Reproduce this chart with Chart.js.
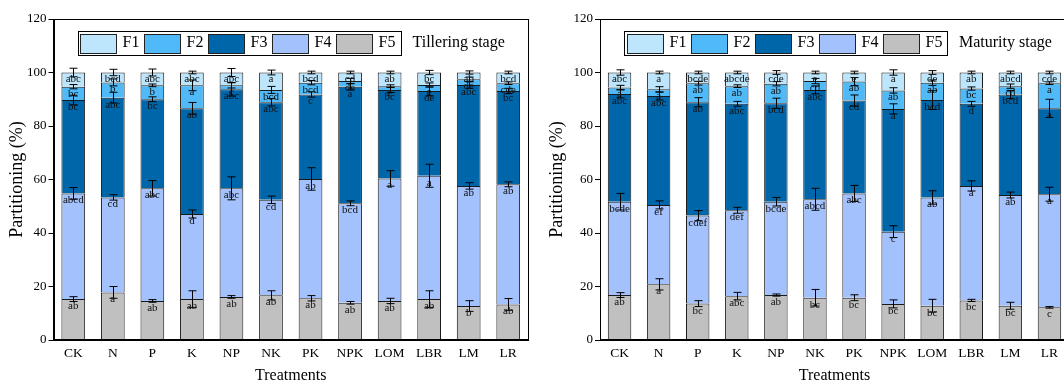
<!DOCTYPE html>
<html>
<head>
<meta charset="utf-8">
<script src="https://cdn.jsdelivr.net/npm/chart.js@4.4.0/dist/chart.umd.min.js"></script>
<style>
  html, body { margin: 0; padding: 0; background: #fff; overflow: hidden; width: 1064px; height: 384px; }
  .panel { position: absolute; top: 0; width: 540px; height: 384px; }
  #p1 { left: 0; }
  #p2 { left: 540px; }
</style>
</head>
<body>
<div class="panel" id="p1"><canvas id="c1" width="540" height="384"></canvas></div>
<div class="panel" id="p2"><canvas id="c2" width="540" height="384"></canvas></div>
<script>
// Categories and tick labels
const treatments = ['CK', 'N', 'P', 'K', 'NP', 'NK', 'PK', 'NPK', 'LOM', 'LBR', 'LM', 'LR'];
const fractionNames = ['F1', 'F2', 'F3', 'F4', 'F5'];
const yTickValues = [0, 20, 40, 60, 80, 100, 120];

// Tillering stage: partitioning (%) of each fraction
const tillF1 = [5.3, 3.7, 4.8, 4.8, 4.8, 6.5, 3.8, 3.2, 5.1, 4.7, 2.5, 4.0];
const tillF2 = [5.0, 5.7, 5.2, 8.6, 1.5, 4.6, 4.4, 2.1, 1.4, 2.2, 2.2, 2.9];
const tillF3 = [34.9, 37.3, 33.3, 39.5, 37.0, 36.5, 31.6, 43.6, 33.1, 31.7, 37.7, 34.9];
const tillF4 = [39.5, 35.5, 42.1, 31.8, 40.6, 35.7, 44.6, 37.2, 45.8, 46.1, 44.9, 44.9];
const tillF5 = [15.3, 17.8, 14.6, 15.3, 16.1, 16.7, 15.6, 13.9, 14.6, 15.3, 12.7, 13.3];
// Tillering stage: standard errors
const tillErrF1 = [1.6, 1.2, 1.3, 0.5, 1.5, 0.9, 0.5, 0.5, 0.5, 0.8, 0.6, 0.5];
const tillErrF2 = [0.8, 1.3, 0.5, 2.0, 1.0, 1.3, 0.8, 1.0, 0.5, 0.8, 0.8, 0.5];
const tillErrF3 = [1.8, 2.0, 0.9, 2.2, 2.5, 1.4, 1.0, 1.2, 1.0, 1.8, 1.2, 1.0];
const tillErrF4 = [2.2, 1.0, 2.9, 1.5, 4.3, 1.4, 4.2, 0.9, 2.9, 4.3, 1.2, 0.9];
const tillErrF5 = [0.9, 2.2, 0.5, 3.1, 0.5, 1.7, 1.0, 0.5, 1.0, 3.1, 2.0, 2.2];
// Tillering stage: significance letters
const tillLetF1 = ['abc', 'bcd', 'abc', 'abc', 'abc', 'a', 'bcd', 'cd', 'ab', 'bc', 'ab', 'bcd'];
const tillLetF2 = ['bc', 'b', 'b', 'a', 'c', 'bcd', 'bcd', 'de', 'e', 'e', 'de', 'cde'];
const tillLetF3 = ['bc', 'abc', 'bc', 'ab', 'abc', 'abc', 'c', 'a', 'bc', 'de', 'abc', 'bc'];
const tillLetF4 = ['abcd', 'cd', 'abc', 'd', 'abc', 'cd', 'ab', 'bcd', 'a', 'a', 'ab', 'ab'];
const tillLetF5 = ['ab', 'a', 'ab', 'ab', 'ab', 'ab', 'ab', 'ab', 'ab', 'ab', 'b', 'ab'];

// Maturity stage: partitioning (%) of each fraction
const matF1 = [5.6, 6.3, 4.0, 5.1, 4.2, 3.2, 3.4, 6.7, 3.8, 6.0, 5.1, 4.0];
const matF2 = [2.4, 2.5, 7.1, 6.6, 7.3, 3.3, 7.1, 6.9, 6.5, 5.7, 3.1, 9.4];
const matF3 = [40.3, 40.7, 42.4, 39.8, 36.8, 40.9, 34.7, 45.9, 36.4, 30.7, 37.6, 32.1];
const matF4 = [34.9, 29.7, 32.9, 32.1, 34.9, 36.8, 39.0, 27.0, 40.5, 42.8, 41.4, 42.3];
const matF5 = [16.8, 20.8, 13.6, 16.4, 16.8, 15.8, 15.8, 13.5, 12.8, 14.8, 12.8, 12.2];
// Maturity stage: standard errors
const matErrF1 = [1.0, 0.5, 0.5, 0.5, 0.7, 0.5, 0.5, 1.0, 0.7, 0.5, 0.5, 0.5];
const matErrF2 = [0.8, 1.0, 0.7, 0.5, 0.8, 1.0, 1.5, 1.0, 1.0, 0.6, 0.8, 0.5];
const matErrF3 = [1.5, 1.5, 1.7, 0.9, 1.9, 1.5, 2.1, 1.9, 3.5, 0.9, 1.5, 3.4];
const matErrF4 = [3.1, 1.5, 1.9, 1.1, 1.6, 4.1, 3.0, 2.2, 2.5, 1.9, 1.1, 2.6];
const matErrF5 = [0.9, 2.1, 1.1, 1.4, 0.4, 3.1, 1.1, 1.5, 2.4, 0.4, 1.3, 0.3];
// Maturity stage: significance letters
const matLetF1 = ['abc', 'a', 'bcde', 'abcde', 'cde', 'e', 'e', 'a', 'de', 'ab', 'abcd', 'cde'];
const matLetF2 = ['a', 'a', 'ab', 'ab', 'ab', 'cd', 'ab', 'ab', 'ab', 'bc', 'cd', 'a'];
const matLetF3 = ['abc', 'abc', 'ab', 'abc', 'bcd', 'abc', 'cd', 'a', 'bcd', 'd', 'bcd', 'a'];
const matLetF4 = ['bcde', 'ef', 'cdef', 'def', 'bcde', 'abcd', 'abc', 'c', 'ab', 'a', 'ab', 'a'];
const matLetF5 = ['ab', 'a', 'bc', 'abc', 'ab', 'bc', 'bc', 'bc', 'bc', 'bc', 'bc', 'c'];

// Fill colours F1..F5
const fractionColors = ['#bde5fc', '#50baf8', '#0066aa', '#a3c1fc', '#c0c0c0'];

const SERIF = '"Liberation Serif", "Times New Roman", serif';
const INK = '#000';

// Draws the plot frame, error bars, letters and the boxed legend with the stage name
const stageDecor = {
  id: 'stageDecor',
  afterDatasetsDraw(chart, args, opts) {
    const ctx = chart.ctx;
    const area = chart.chartArea;
    const yScale = chart.scales.y;
    const sets = chart.data.datasets;
    ctx.save();

    // error bars at the top of each stacked segment
    ctx.strokeStyle = INK;
    ctx.lineWidth = 1;
    const cum = new Array(chart.data.labels.length).fill(0);
    sets.forEach((ds, d) => {
      const meta = chart.getDatasetMeta(d);
      meta.data.forEach((el, i) => {
        cum[i] += ds.data[i];
        const err = ds.errors[i];
        const x = Math.round(el.x) + 0.5;
        const yHi = yScale.getPixelForValue(cum[i] + err);
        const yLo = yScale.getPixelForValue(cum[i] - err);
        ctx.beginPath();
        ctx.moveTo(x, yHi); ctx.lineTo(x, yLo);
        ctx.moveTo(x - 4, yHi); ctx.lineTo(x + 4, yHi);
        ctx.moveTo(x - 4, yLo); ctx.lineTo(x + 4, yLo);
        ctx.stroke();
      });
    });

    // significance letters just below each segment top
    ctx.fillStyle = '#111';
    ctx.font = '11px ' + SERIF;
    ctx.textAlign = 'center';
    ctx.textBaseline = 'middle';
    sets.forEach((ds, d) => {
      const meta = chart.getDatasetMeta(d);
      meta.data.forEach((el, i) => {
        ctx.fillText(ds.letters[i], el.x, el.y + 7);
      });
    });

    // frame around the plot area
    ctx.strokeStyle = INK;
    ctx.lineWidth = 1;
    ctx.strokeRect(Math.round(area.left) + 0.5, Math.round(area.top) + 0.5,
                   Math.round(area.right - area.left) - 1, Math.round(area.bottom - area.top) - 1);

    // boxed legend, F1 first
    const bx = area.left + 24, by = area.top + 11.5, bw = 323, bh = 24;
    ctx.fillStyle = '#fff';
    ctx.fillRect(bx, by, bw, bh);
    ctx.strokeRect(Math.round(bx) + 0.5, Math.round(by) + 0.5, bw, bh);
    ctx.font = '16px ' + SERIF;
    ctx.textAlign = 'left';
    ctx.textBaseline = 'middle';
    const ordered = sets.slice().reverse();
    ordered.forEach((ds, k) => {
      const sx = Math.round(bx + 2.5 + k * 64) + 0.5;
      const sy = Math.round(by + 3) + 0.5;
      ctx.fillStyle = ds.backgroundColor;
      ctx.fillRect(sx, sy, 36, 19);
      ctx.strokeStyle = '#222';
      ctx.strokeRect(sx, sy, 36, 19);
      ctx.fillStyle = INK;
      ctx.fillText(ds.label, sx + 42, by + bh / 2 + 0.5);
    });
    ctx.fillText(opts.stage, bx + bw + 12, by + bh / 2 + 0.5);
    ctx.restore();
  }
};

function buildSets(values, errors, letters) {
  // stacked bottom-up: F5, F4, F3, F2, F1
  const order = [4, 3, 2, 1, 0];
  return order.map(k => ({
    label: fractionNames[k],
    data: values[k],
    errors: errors[k],
    letters: letters[k],
    backgroundColor: fractionColors[k],
    borderColor: '#1a1a1a',
    borderWidth: 1,
    categoryPercentage: 1.0,
    barPercentage: 0.6
  }));
}

function makeChart(canvasId, stage, sets, yAxisWidth, padRight) {
  return new Chart(document.getElementById(canvasId), {
    type: 'bar',
    data: { labels: treatments, datasets: sets },
    plugins: [stageDecor],
    options: {
      responsive: false,
      devicePixelRatio: 1,
      animation: false,
      layout: { padding: { top: 19, right: padRight, bottom: 0, left: 0 } },
      plugins: {
        legend: { display: false },
        tooltip: { enabled: false },
        stageDecor: { stage: stage }
      },
      scales: {
        x: {
          stacked: true,
          grid: { display: false, drawTicks: false },
          border: { display: true, color: INK, width: 1 },
          ticks: { color: INK, font: { family: SERIF, size: 13.5 }, padding: 5, maxRotation: 0, autoSkip: false },
          title: { display: true, text: 'Treatments', color: INK, font: { family: SERIF, size: 16, lineHeight: 1 }, padding: 0 },
          afterFit: (axis) => { axis.height = 44; }
        },
        y: {
          stacked: true,
          min: 0,
          max: 120,
          afterBuildTicks: (axis) => { axis.ticks = yTickValues.map(v => ({ value: v })); },
          grid: { display: true, drawOnChartArea: false, drawTicks: true, tickLength: 5, color: INK },
          border: { display: true, color: INK, width: 1 },
          ticks: { color: INK, font: { family: SERIF, size: 13 }, padding: 2 },
          title: { display: true, text: 'Partitioning (%)', color: INK, font: { family: SERIF, size: 18, lineHeight: 1.2 }, padding: { top: 6, bottom: 0 } },
          afterFit: (axis) => { axis.width = yAxisWidth; }
        }
      }
    }
  });
}

makeChart('c1', 'Tillering stage',
  buildSets([tillF1, tillF2, tillF3, tillF4, tillF5],
            [tillErrF1, tillErrF2, tillErrF3, tillErrF4, tillErrF5],
            [tillLetF1, tillLetF2, tillLetF3, tillLetF4, tillLetF5]),
  53.5, 12);

makeChart('c2', 'Maturity stage',
  buildSets([matF1, matF2, matF3, matF4, matF5],
            [matErrF1, matErrF2, matErrF3, matErrF4, matErrF5],
            [matLetF1, matLetF2, matLetF3, matLetF4, matLetF5]),
  60, 11);
</script>
</body>
</html>
